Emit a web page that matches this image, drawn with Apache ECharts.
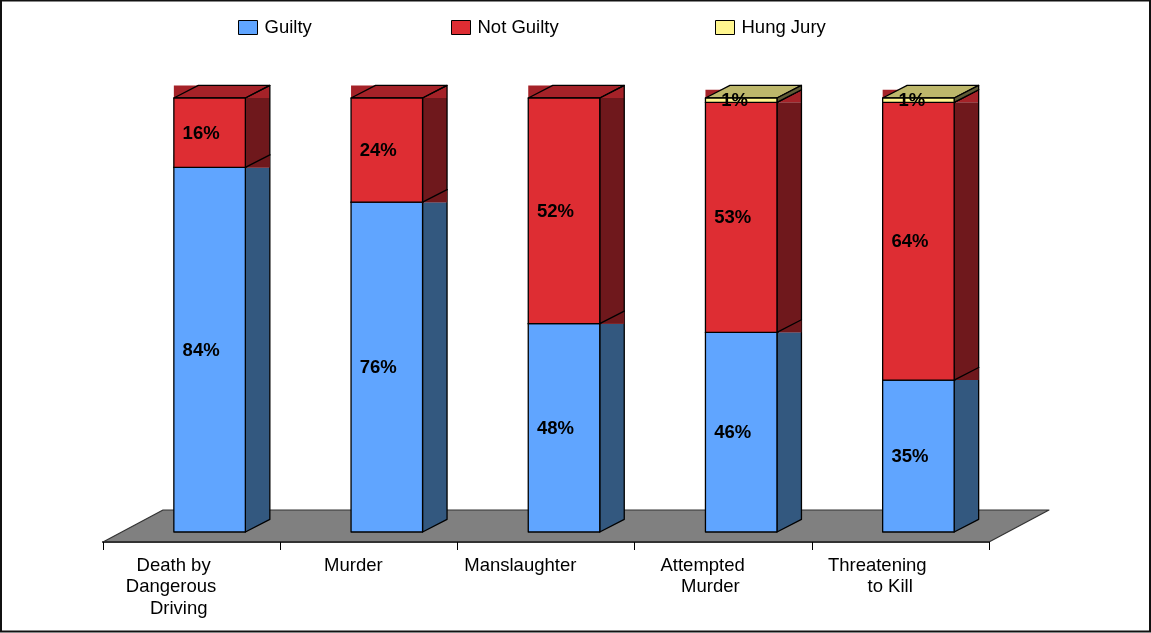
<!DOCTYPE html>
<html>
<head>
<meta charset="utf-8">
<style>html,body{margin:0;padding:0;background:#fff}#c{width:1151px;height:633px}</style>
<script src="https://cdn.jsdelivr.net/npm/echarts@6/dist/echarts.min.js"></script>
</head>
<body>
<div id="c"></div>
<script>
const N = '\u00A0';
const categories = [
  'Death by' + N.repeat(7) + '\nDangerous' + N.repeat(8) + '\nDriving' + N.repeat(5),
  'Murder' + N.repeat(6),
  'Manslaughter' + N.repeat(10),
  'Attempted' + N.repeat(8) + '\nMurder' + N.repeat(5),
  'Threatening' + N.repeat(9) + '\nto Kill' + N.repeat(4)
];
const guilty = [84, 76, 48, 46, 35];
const notGuilty = [16, 24, 52, 53, 64];
const hungJury = [0, 0, 0, 1, 1];

const faces = {
  Guilty: { front: '#60A5FF', side: '#33587F', top: '#33587F' },
  'Not Guilty': { front: '#DE2D33', side: '#6F181C', top: '#A52228' },
  'Hung Jury': { front: '#FFF68F', side: '#5F5B36', top: '#BDB76B' }
};
const BAR_RATIO = 0.4035, BAR_SHIFT = 18, DX = 24.5, DY = 12.6;
const FLOOR_DX = 60, FLOOR_DY = 32, Y_MIN = -2.304;

function segments(values, below) {
  return values.map((v, i) => [i, below[i], below[i] + v, v]);
}
const sum = (a, b) => a.map((v, i) => v + b[i]);
const zeros = guilty.map(() => 0);

function barItem(name) {
  const f = faces[name];
  const isBase = name === 'Guilty', isCap = name === 'Hung Jury';
  return function (params, api) {
    const v = api.value(3);
    if (!v) return null;
    const cat = api.value(0);
    const w = api.size([1, 0])[0] * BAR_RATIO;
    const cx = api.coord([cat, 0])[0] + BAR_SHIFT;
    const x0 = cx - w / 2, x1 = cx + w / 2, x2 = x1 + DX;
    const yB = api.coord([cat, api.value(1)])[1];
    const yT = api.coord([cat, api.value(2)])[1];
    const line = { stroke: '#000', lineWidth: 1.3, lineJoin: 'round' };
    const children = [];
    if (!isCap) {
      // side face as it is filled in the picture
      children.push({
        type: 'polygon',
        shape: { points: isBase
          ? [[x1, yT], [x2, yT], [x2, yB - DY], [x1, yB]]
          : [[x1, yT], [x2, yT], [x2, yB], [x1, yB]] },
        style: { fill: f.side }
      });
      children.push({
        type: 'rect',
        shape: { x: x0, y: yT - DY, width: x2 - x0, height: DY },
        style: { fill: faces['Not Guilty'].top }
      });
    }
    children.push({
      type: 'polygon',
      shape: { points: [[x0, yT], [x0 + DX, yT - DY], [x2, yT - DY], [x1, yT]] },
      style: Object.assign({ fill: f.top }, line)
    });
    // side outline
    children.push({
      type: 'polygon',
      shape: { points: [[x1, yT], [x2, yT - DY], [x2, yB - DY], [x1, yB]] },
      style: Object.assign({ fill: isCap ? f.side : 'rgba(0,0,0,0)' }, line)
    });
    children.push({
      type: 'rect',
      shape: { x: x0, y: yT, width: w, height: yB - yT },
      style: Object.assign({ fill: f.front }, line)
    });
    children.push({
      type: 'text',
      style: {
        text: v + '%', x: cx + (v < 10 ? -6.5 : -8.5), y: (yT + yB) / 2 + 1,
        align: 'center', verticalAlign: 'middle',
        font: 'bold 18.5px "Liberation Sans", Arial, sans-serif', fill: '#000'
      }
    });
    return { type: 'group', children };
  };
}

function floorItem(params, api) {
  const cs = params.coordSys;
  const y = api.coord([0, Y_MIN])[1];
  const xa = cs.x, xb = cs.x + cs.width;
  return {
    type: 'polygon',
    shape: { points: [[xa, y], [xa + FLOOR_DX, y - FLOOR_DY], [xb + FLOOR_DX, y - FLOOR_DY], [xb, y]] },
    style: { fill: '#808080', stroke: '#333', lineWidth: 1.2, lineJoin: 'round' }
  };
}

const chart = echarts.init(document.getElementById('c'), null, { renderer: 'canvas' });
const legendText = { fontFamily: '"Liberation Sans", Arial, sans-serif', fontSize: 18.5, color: '#000', padding: [0, 0, 0, 2] };
const mkLegend = (name, left) => ({
  data: [name], left, top: 18, itemWidth: 19, itemHeight: 14, itemGap: 0,
  icon: 'rect', textStyle: legendText, padding: 0,
  itemStyle: { borderColor: '#000', borderWidth: 1 }
});
chart.setOption({
  animation: false,
  backgroundColor: '#fff',
  graphic: [{
    type: 'rect', silent: true, z: 100,
    shape: { x: 1, y: 0.5, width: 1149, height: 631 },
    style: { fill: 'none', stroke: '#111', lineWidth: 2 }
  }],
  legend: [mkLegend('Guilty', 238), mkLegend('Not Guilty', 451), mkLegend('Hung Jury', 715)],
  grid: { left: 103, top: 98, width: 886, height: 444, containLabel: false },
  xAxis: {
    type: 'category', data: categories,
    boundaryGap: true, z: 5,
    axisLine: { show: true, onZero: false, lineStyle: { color: '#333', width: 2 } },
    axisTick: { show: true, length: 8, alignWithLabel: false, lineStyle: { color: '#000', width: 1 } },
    axisLabel: {
      interval: 0, margin: 13, color: '#000', fontSize: 18.5, lineHeight: 21.4,
      fontFamily: '"Liberation Sans", Arial, sans-serif', hideOverlap: false
    }
  },
  yAxis: { type: 'value', min: Y_MIN, max: 100, show: false, splitLine: { show: false } },
  series: [
    { type: 'custom', name: 'floor', silent: true, clip: false, z: 1, data: [[0, 0]], renderItem: floorItem, encode: { x: 0, y: 1 } },
    { type: 'custom', name: 'Guilty', clip: false, z: 2, itemStyle: { color: faces.Guilty.front },
      data: segments(guilty, zeros), renderItem: barItem('Guilty'), encode: { x: 0, y: 2 } },
    { type: 'custom', name: 'Not Guilty', clip: false, z: 3, itemStyle: { color: faces['Not Guilty'].front },
      data: segments(notGuilty, guilty), renderItem: barItem('Not Guilty'), encode: { x: 0, y: 2 } },
    { type: 'custom', name: 'Hung Jury', clip: false, z: 4, itemStyle: { color: faces['Hung Jury'].front },
      data: segments(hungJury, sum(guilty, notGuilty)), renderItem: barItem('Hung Jury'), encode: { x: 0, y: 2 } }
  ]
});
</script>
</body>
</html>
